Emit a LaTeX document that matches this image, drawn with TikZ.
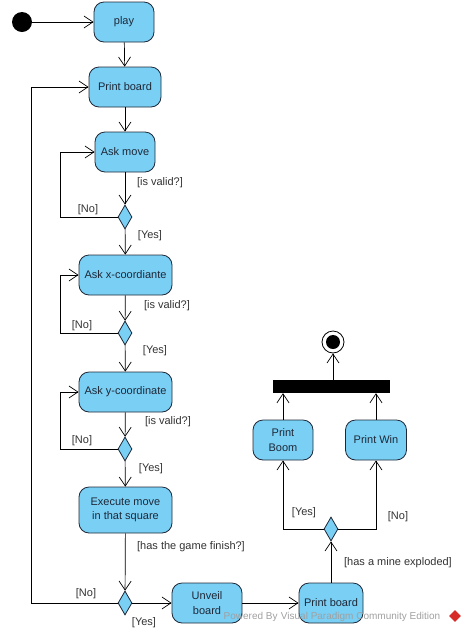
\documentclass[tikz,border=0pt]{standalone}
\usepackage{fontspec}
\setmainfont{Liberation Sans}
\usetikzlibrary{arrows.meta,shapes.geometric}
\definecolor{actfill}{RGB}{122,207,245}
\definecolor{actline}{RGB}{30,40,55}
\definecolor{lbl}{RGB}{50,50,50}
\definecolor{wm}{RGB}{160,160,160}
\definecolor{logo}{RGB}{215,45,40}
\tikzset{
  act/.style={draw=actline, fill=actfill, rounded corners=10pt, minimum height=40pt,
    align=center, inner sep=2pt, font=\fontsize{11}{14}\selectfont, text=actline, line width=0.8pt},
  dec/.style={draw=actline, fill=actfill, diamond, minimum width=14pt, minimum height=24pt,
    inner sep=0pt, line width=0.8pt},
  flow/.style={draw=black, line width=0.7pt, -{Straight Barb[length=9pt,width=12pt,line width=0.7pt]}},
  guard/.style={font=\fontsize{11}{13}\selectfont, text=lbl, inner sep=0pt},
}
\begin{document}
\begin{tikzpicture}[x=1pt,y=-1pt]
\useasboundingbox (0,0) rectangle (466,633);
% nodes
\node[circle, fill=black, minimum size=20pt, inner sep=0pt] (start) at (22,22) {};
\node[act, minimum width=60pt] (play) at (124,22) {play};
\node[act, minimum width=72pt] (pb1) at (125,87) {Print board};
\node[act, minimum width=60pt] (ask) at (125,152) {Ask move};
\node[dec] (d1) at (125,217) {};
\node[act, minimum width=93pt] (askx) at (125.5,275) {Ask x-coordiante};
\node[dec] (d2) at (125,333) {};
\node[act, minimum width=93pt] (asky) at (125.5,392) {Ask y-coordinate};
\node[dec] (d3) at (125,449) {};
\node[act, minimum width=93pt, minimum height=46pt] (exec) at (125.5,510) {Execute move\\in that square};
\node[dec] (d4) at (125,603) {};
\node[act, minimum width=70pt, font=\fontsize{11}{15}\selectfont] (unveil) at (207,603) {Unveil\\board};
\node[act, minimum width=64pt] (pb2) at (331,603) {Print board};
\node[dec] (d5) at (331,529) {};
\node[act, minimum width=60pt, font=\fontsize{11}{15}\selectfont] (boom) at (283,440) {Print\\Boom};
\node[act, minimum width=61pt] (win) at (376,440) {Print Win};
\node[rectangle, fill=black, minimum width=117pt, minimum height=13pt, inner sep=0pt] (bar) at (331.5,386.5) {};
\node[circle, draw=black, line width=0.8pt, minimum size=22pt, inner sep=0pt,
  path picture={\fill[black] (path picture bounding box.center) circle (7pt);}] (final) at (333,342) {};
% connectors
\draw[flow] (start) -- (play);
\draw[flow] (play) -- (pb1);
\draw[flow] (pb1) -- (ask);
\draw[flow] (ask) -- (d1);
\draw[flow] (d1.west) -- ++(-57,0) |- (ask.west);
\draw[flow] (d1) -- (askx);
\draw[flow] (askx) -- (d2);
\draw[flow] (d2.west) -- ++(-57,0) |- (askx.west);
\draw[flow] (d2) -- (asky);
\draw[flow] (asky) -- (d3);
\draw[flow] (d3.west) -- ++(-57,0) |- (asky.west);
\draw[flow] (d3) -- (exec);
\draw[flow] (exec) -- (d4);
\draw[flow] (d4.west) -- ++(-86,0) |- (pb1.west);
\draw[flow] (d4) -- (unveil);
\draw[flow] (unveil) -- (pb2);
\draw[flow] (pb2) -- (d5);
\draw[flow] (d5.west) -| (boom.south);
\draw[flow] (d5.east) -| (win.south);
\draw[flow] (boom.north) -- (boom.north |- bar.south);
\draw[flow] (win.north) -- (win.north |- bar.south);
\draw[flow] (bar.north -| final) -- (final);
% guards
\node[guard] (g1) at (160,183) {[is valid?]};
\node[guard] (g2) at (88,210) {[No]};
\node[guard] (g3) at (150,236) {[Yes]};
\node[guard] (g4) at (167,306) {[is valid?]};
\node[guard] (g5) at (82,326) {[No]};
\node[guard] (g6) at (155,351) {[Yes]};
\node[guard] (g7) at (168,422) {[is valid?]};
\node[guard] (g8) at (82,441) {[No]};
\node[guard] (g9) at (151,469) {[Yes]};
\node[guard] (g10) at (191,547) {[has the game finish?]};
\node[guard] (g11) at (86,594) {[No]};
\node[guard] (g12) at (144,623) {[Yes]};
\node[guard] (g13) at (304,513) {[Yes]};
\node[guard] (g14) at (398,517) {[No]};
\node[guard] (g15) at (398,563) {[has a mine exploded]};
% watermark
\node[font=\fontsize{10}{12}\selectfont, text=wm, inner sep=0pt] (wmark) at (332,617) {Powered By\,\,Visual Paradigm Community Edition};
\node[diamond, fill=logo, minimum size=12pt, inner sep=0pt] (logo) at (455,616) {};
\end{tikzpicture}
\end{document}
